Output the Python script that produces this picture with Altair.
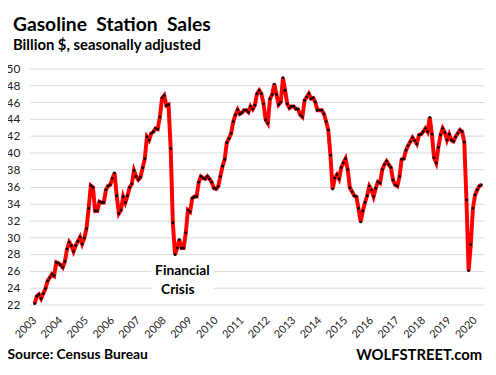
import altair as alt
import pandas as pd

# Monthly gasoline station sales (billion $, SA), Jul 2003 .. Oct 2020
sales_2003_2005 = [22.1, 23.0, 23.2, 22.7, 23.3, 23.9, 24.8, 25.2, 25.6, 25.4, 27.0, 26.9, 26.7,
                   26.4, 27.1, 28.6, 29.4, 29.0, 28.3, 29.0, 29.5, 30.0, 29.2, 29.9, 31.0, 33.4]
sales_2005_2007 = [36.1, 35.9, 33.1, 33.1, 34.2, 34.1, 34.1, 35.6, 36.05, 36.2, 36.95, 37.6, 34.9,
                   32.8, 33.2, 34.8, 34.1, 34.9, 35.9, 36.3, 37.9, 37.2, 36.8, 37.1, 38.2, 39.3]
sales_2007_2009 = [41.9, 41.5, 42.3, 42.5, 42.9, 42.8, 44.25, 46.5, 46.8, 45.6, 45.7, 40.5,
                   31.7, 27.9, 28.7, 29.7, 28.7, 28.7, 30.5, 33.2, 33.0, 34.6, 34.8, 34.8]
sales_2009_2014 = [36.5, 37.2, 37.0, 36.9, 37.2, 36.9, 36.5, 35.8, 35.7, 36.0, 37.2, 38.4, 39.2,
                   41.2, 41.7, 42.3, 43.7, 44.5, 45.1, 44.6, 44.75, 45.05, 45.05, 44.8, 45.5,
                   45.15, 45.65, 47.0, 47.4, 47.0, 45.8, 43.9, 43.5, 46.4, 46.9, 48.15, 46.9,
                   45.7, 46.0, 48.9, 47.4, 45.8, 45.3, 45.5, 45.5, 45.2, 45.15, 44.5, 44.25,
                   46.2, 46.6, 47.0, 46.4, 46.5, 46.0]
sales_2014_2020 = [45.05, 45.05, 45.05, 44.6, 43.7, 42.7, 39.7, 35.7, 37.0, 37.4, 36.9, 38.25,
                   38.8, 39.3, 38.0, 35.85, 35.4, 34.9, 34.8, 33.4, 31.8, 33.1, 34.1, 34.9,
                   36.05, 35.6, 34.8, 35.8, 36.55, 36.4, 38.0, 38.6, 39.0, 38.6, 38.25, 36.75,
                   36.2, 36.05, 37.2, 39.2, 39.3, 40.3, 40.85, 41.3, 41.8, 41.45, 41.05, 42.1,
                   42.2, 42.5, 42.9, 42.5, 44.2, 42.2, 39.4, 38.8, 40.65, 42.1, 42.9, 42.4,
                   41.5, 42.2, 41.5, 41.35, 41.9, 42.3, 42.7, 42.5, 41.25, 34.4, 26.0, 29.1,
                   33.4, 35.0, 35.6, 36.05, 36.2]

sales = sales_2003_2005 + sales_2005_2007 + sales_2007_2009 + sales_2009_2014 + sales_2014_2020
month_index = list(range(len(sales)))

year_labels = list(range(2003, 2021))
label_positions = [12 * k for k in range(len(year_labels))]
y_ticks = list(range(22, 51, 2))

ann_text = ["Financial", "Crisis"]
ann_x = [68.4, 66.3]
ann_y = [25.5, 23.3]
box_x = [54.0]
box_x2 = [83.0]
box_y = [23.0]
box_y2 = [27.1]

FONT = "Lato"

df = pd.DataFrame({"i": month_index, "sales": sales})
ann = pd.DataFrame({"text": ann_text, "x": ann_x, "y": ann_y})
box = pd.DataFrame({"x": box_x, "x2": box_x2, "y": box_y, "y2": box_y2})

xscale = alt.Scale(domain=[-2.29, 208.15], nice=False, zero=False)
yscale = alt.Scale(domain=[22, 50], nice=False, zero=False)

x_axis = alt.Axis(values=label_positions, tickCount=len(label_positions),
                  labelExpr="toString(2003 + datum.value / 12)",
                  labelAngle=-45, labelAlign="right", labelBaseline="middle",
                  labelPadding=14, labelOverlap=False, labelFlush=False,
                  grid=False, domain=False, ticks=False,
                  labelFontSize=11, labelColor="#222", labelFont=FONT,
                  title="Source: Census Bureau", titleX=-23, titleY=55,
                  titleAnchor="start", titleAlign="left", titleBaseline="alphabetic",
                  titleFontSize=14, titleFontWeight="bold", titleFont=FONT, titleColor="#000")

y_axis = alt.Axis(values=y_ticks, tickCount=len(y_ticks), labelOverlap=False,
                  grid=True, gridColor="#D9D9D9", gridWidth=1,
                  domain=False, ticks=False, labelPadding=10,
                  labelFontSize=12, labelFont=FONT, labelColor="#222",
                  title="WOLFSTREET.com", titleAngle=0, titleX=330, titleY=295,
                  titleAlign="left", titleBaseline="alphabetic",
                  titleFontSize=15, titleFontWeight="bold", titleFont=FONT, titleColor="#000")

base = alt.Chart(df)

line = base.mark_line(color="#FF0000", strokeWidth=4).encode(
    x=alt.X("i:Q", scale=xscale, axis=x_axis),
    y=alt.Y("sales:Q", scale=yscale, axis=y_axis),
)
dots = base.mark_circle(color="#000000", size=8, opacity=1).encode(
    x=alt.X("i:Q", scale=xscale),
    y=alt.Y("sales:Q", scale=yscale),
)
rect = alt.Chart(box).mark_rect(color="white").encode(
    x=alt.X("x:Q", scale=xscale), x2="x2:Q",
    y=alt.Y("y:Q", scale=yscale), y2="y2:Q",
)
text = alt.Chart(ann).mark_text(font=FONT, fontSize=14, fontWeight="bold",
                                color="#000", align="center", baseline="alphabetic").encode(
    x=alt.X("x:Q", scale=xscale),
    y=alt.Y("y:Q", scale=yscale),
    text="text:N",
)

chart = alt.layer(line, rect, dots, text).properties(
    width=460, height=239,
    padding={"left": 22, "top": 59, "right": 4, "bottom": 56},
    autosize=alt.AutoSizeParams(type="none"),
    title=alt.TitleParams("Gasoline\u00a0 Station\u00a0 Sales",
                          subtitle="Billion $, seasonally adjusted",
                          anchor="start", frame="group", dx=-17, offset=9,
                          fontSize=19.5, font=FONT, fontWeight="bold", color="#000",
                          subtitleFontSize=15, subtitleFont=FONT,
                          subtitleFontWeight="bold", subtitleColor="#000",
                          subtitlePadding=2),
).configure(background="white", view=alt.ViewConfig(stroke=None))

chart.save("out.html", embed_options={"renderer": "svg", "actions": False})
